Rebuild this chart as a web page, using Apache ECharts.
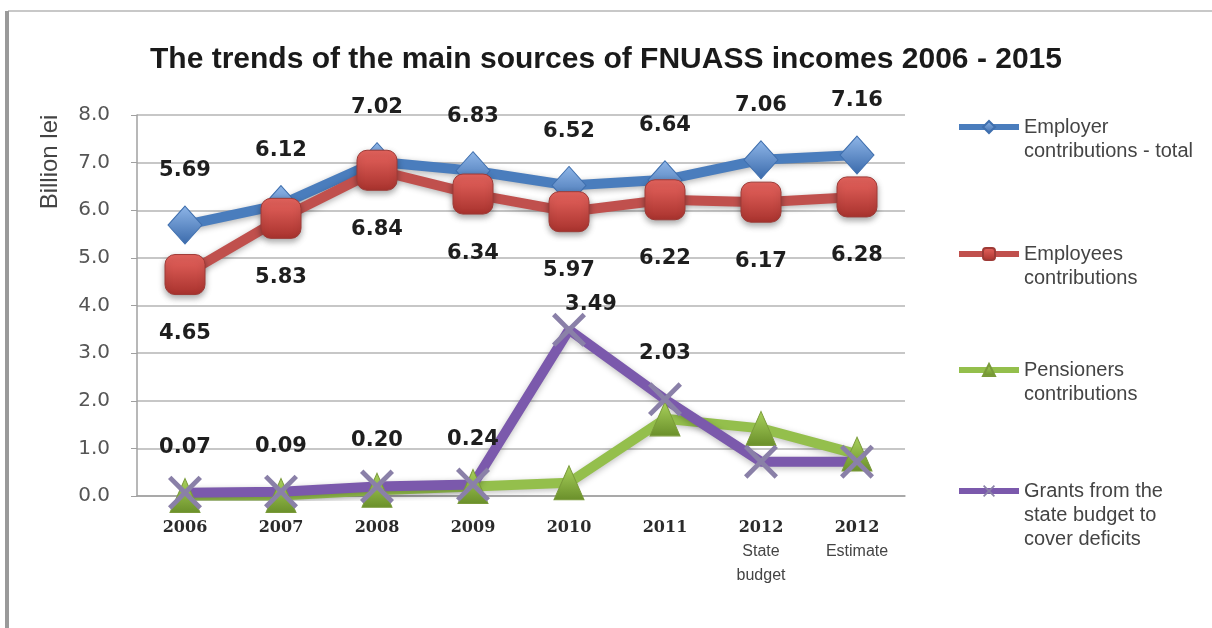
<!DOCTYPE html>
<html>
<head>
<meta charset="utf-8">
<script src="https://cdn.jsdelivr.net/npm/echarts@6/dist/echarts.min.js"></script>
<style>
  html, body { margin: 0; padding: 0; background: #fff; }
  #main { width: 1212px; height: 628px; }
</style>
</head>
<body>
<div id="main"></div>
<script>
// categories and values
let categories = ['2006', '2007', '2008', '2009', '2010', '2011', '2012 State budget', '2012 Estimate'];
let employerTotal = [5.69, 6.12, 7.02, 6.83, 6.52, 6.64, 7.06, 7.16];
let employeesContrib = [4.65, 5.83, 6.84, 6.34, 5.97, 6.22, 6.17, 6.28];
let pensionersContrib = [0.01, 0.01, 0.12, 0.2, 0.28, 1.62, 1.42, 0.88];
let stateGrants = [0.07, 0.09, 0.20, 0.24, 3.49, 2.03, 0.72, 0.72];
let seriesNames = ['Employer contributions - total', 'Employees contributions', 'Pensioners contributions', 'Grants from the state budget to cover deficits'];
let legendText = [
    'Employer\ncontributions - total',
    'Employees\ncontributions',
    'Pensioners\ncontributions',
    'Grants from the\nstate budget to\ncover deficits'
];

let chart = echarts.init(document.getElementById('main'));

function grad(top, bottom) {
    return new echarts.graphic.LinearGradient(0, 0, 0, 1, [
        {offset: 0, color: top},
        {offset: 1, color: bottom}
    ]);
}

let xPath = 'path://M2,0 L10,8 L18,0 L20,2 L12,10 L20,18 L18,20 L10,12 L2,20 L0,18 L8,10 L0,2 Z';

let dataLabel = {
    show: true,
    fontFamily: 'DejaVu Sans',
    fontWeight: 'bold',
    fontSize: 21,
    color: '#1e1e1e',
    formatter: function (p) {
        return p.value.toFixed(2);
    }
};

// one legend per series so each can sit at its own height;
// blank lines in front keep the icon level with the first text line
let legendTops = [86, 213, 329, 426];
let legendColors = ['#4a7dbd', '#c0504d', '#94bf4c', '#7b59ac'];
let legends = seriesNames.map(function (name, i) {
    let lines = legendText[i].split('\n').length;
    let pad = new Array(lines).join(' \n');
    return {
        data: [name],
        orient: 'vertical',
        left: 951,
        top: legendTops[i],
        itemWidth: 60,
        itemHeight: 15,
        itemGap: 4,
        selectedMode: false,
        lineStyle: {width: 6, color: legendColors[i]},
        formatter: function () {
            return pad + legendText[i];
        },
        textStyle: {
            fontFamily: 'Liberation Sans',
            fontSize: 20,
            lineHeight: 24,
            color: '#444'
        }
    };
});

let option = {
    backgroundColor: '#fff',
    animation: false,
    title: {
        text: 'The trends of the main sources of FNUASS incomes 2006 - 2015',
        left: 145,
        top: 40,
        textStyle: {
            fontFamily: 'Liberation Sans',
            fontWeight: 'bold',
            fontSize: 30,
            color: '#1a1a1a'
        }
    },
    legend: legends,
    graphic: [
        {type: 'line', shape: {x1: 8, y1: 11, x2: 1212, y2: 11}, style: {stroke: '#c8c8c8', lineWidth: 2}},
        {type: 'line', shape: {x1: 7, y1: 11, x2: 7, y2: 628}, style: {stroke: '#9a9a9a', lineWidth: 4}},
        {
            type: 'text',
            x: 50,
            y: 162,
            rotation: Math.PI / 2,
            style: {
                text: 'Billion lei',
                fontFamily: 'Liberation Sans',
                fontSize: 24,
                fill: '#444',
                align: 'center',
                verticalAlign: 'middle'
            }
        }
    ],
    grid: {
        left: 137,
        right: 307,
        top: 115,
        bottom: 132
    },
    xAxis: {
        type: 'category',
        data: categories,
        boundaryGap: true,
        axisLine: {lineStyle: {color: '#a0a0a0', width: 1.5}},
        axisTick: {show: false},
        axisLabel: {
            interval: 0,
            margin: 20,
            lineHeight: 24,
            formatter: function (v) {
                let parts = v.split(' ');
                let out = '{y|' + parts[0] + '}';
                for (let k = 1; k < parts.length; k++) {
                    out += '\n{s|' + parts[k] + '}';
                }
                return out;
            },
            rich: {
                y: {fontFamily: 'DejaVu Serif', fontWeight: 'bold', fontSize: 16, color: '#2a2a2a', lineHeight: 24},
                s: {fontFamily: 'Liberation Sans', fontSize: 16, color: '#444', lineHeight: 24}
            }
        }
    },
    yAxis: {
        type: 'value',
        min: 0,
        max: 8,
        interval: 1,
        axisLine: {show: true, lineStyle: {color: '#a0a0a0', width: 1.5}},
        axisTick: {show: true, length: 6, lineStyle: {color: '#a0a0a0'}},
        splitLine: {lineStyle: {color: '#b4b4b4', width: 1.5}},
        axisLabel: {
            margin: 27,
            fontFamily: 'DejaVu Sans',
            fontSize: 20,
            color: '#555',
            formatter: function (v) {
                return v.toFixed(1);
            }
        }
    },
    series: [
        {
            name: seriesNames[0],
            type: 'line',
            data: employerTotal,
            symbol: 'diamond',
            symbolSize: [34, 38],
            lineStyle: {color: '#4a7dbd', width: 10, shadowBlur: 6, shadowColor: 'rgba(0,0,0,0.3)', shadowOffsetY: 2},
            itemStyle: {color: grad('#8fb6e8', '#3a6aab'), borderColor: '#3f6fae', borderWidth: 1},
            label: Object.assign({}, dataLabel, {position: 'top', distance: 24})
        },
        {
            name: seriesNames[1],
            type: 'line',
            data: employeesContrib,
            symbol: 'roundRect',
            symbolSize: 40,
            lineStyle: {color: '#c0504d', width: 10, shadowBlur: 6, shadowColor: 'rgba(0,0,0,0.3)', shadowOffsetY: 2},
            itemStyle: {color: grad('#e8655f', '#a8322d'), borderColor: '#9e3a36', borderWidth: 1, shadowBlur: 6, shadowColor: 'rgba(0,0,0,0.35)', shadowOffsetY: 3},
            label: Object.assign({}, dataLabel, {position: 'bottom', distance: 28})
        },
        {
            name: seriesNames[2],
            type: 'line',
            data: pensionersContrib,
            symbol: 'triangle',
            symbolSize: [30, 34],
            lineStyle: {color: '#94bf4c', width: 10, shadowBlur: 6, shadowColor: 'rgba(0,0,0,0.25)', shadowOffsetY: 2},
            itemStyle: {color: grad('#a9d25c', '#6a8f2a'), borderColor: '#7a9a3a', borderWidth: 1},
            label: {show: false}
        },
        {
            name: seriesNames[3],
            type: 'line',
            data: stateGrants.map(function (v, i) {
                // the peak label sits close to its point, a little to the right
                return i === 4 ? {value: v, label: {distance: -2, offset: [22, 0]}} : v;
            }),
            symbol: xPath,
            symbolSize: 34,
            lineStyle: {color: '#7b59ac', width: 10, shadowBlur: 6, shadowColor: 'rgba(0,0,0,0.25)', shadowOffsetY: 2},
            itemStyle: {color: '#8a80a8'},
            label: Object.assign({}, dataLabel, {
                position: 'top',
                distance: 18,
                formatter: function (p) {
                    return p.dataIndex < 6 ? p.value.toFixed(2) : '';
                }
            })
        }
    ]
};

chart.setOption(option);
</script>
</body>
</html>
